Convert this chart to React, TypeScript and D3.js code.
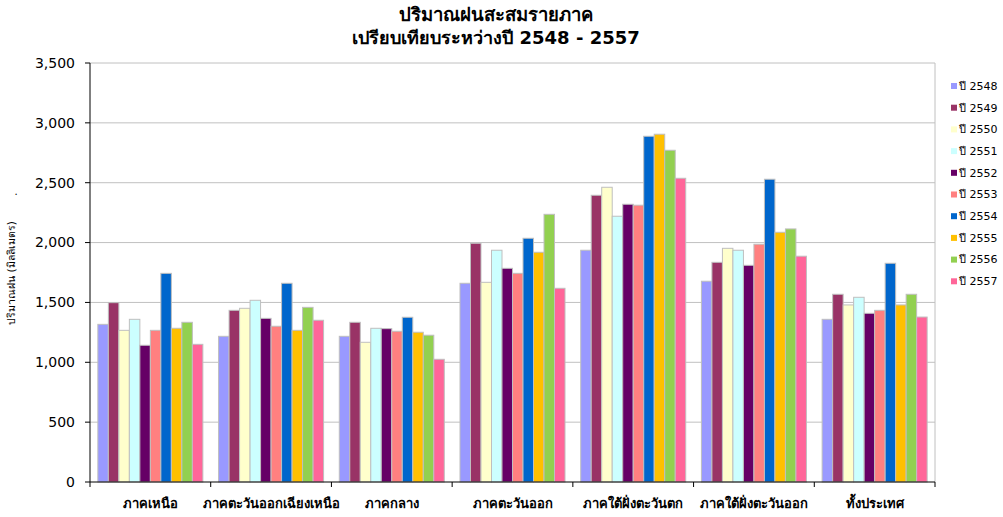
import React from "react";
import * as d3 from "d3";

const categories = ["ภาคเหนือ", "ภาคตะวันออกเฉียงเหนือ", "ภาคกลาง", "ภาคตะวันออก", "ภาคใต้ฝั่งตะวันตก", "ภาคใต้ฝั่งตะวันออก", "ทั้งประเทศ"];
const years = ["ปี 2548", "ปี 2549", "ปี 2550", "ปี 2551", "ปี 2552", "ปี 2553", "ปี 2554", "ปี 2555", "ปี 2556", "ปี 2557"];
const colors = ["#9999FF", "#993366", "#FFFFCC", "#CCFFFF", "#660066", "#FF8080", "#0066CC", "#FFC000", "#92D050", "#FF6699"];

const v2548 = [1317, 1217, 1217, 1660, 1936, 1677, 1359];
const v2549 = [1498, 1434, 1334, 1994, 2395, 1835, 1568];
const v2550 = [1267, 1451, 1167, 1668, 2462, 1952, 1479];
const v2551 = [1359, 1518, 1284, 1936, 2220, 1936, 1543];
const v2552 = [1142, 1367, 1281, 1785, 2320, 1810, 1409];
const v2553 = [1267, 1301, 1259, 1743, 2312, 1986, 1434];
const v2554 = [1743, 1660, 1376, 2036, 2888, 2529, 1827];
const v2555 = [1284, 1267, 1251, 1919, 2905, 2086, 1479];
const v2556 = [1334, 1459, 1226, 2236, 2771, 2114, 1568];
const v2557 = [1150, 1351, 1025, 1618, 2537, 1886, 1378];
const series = [v2548, v2549, v2550, v2551, v2552, v2553, v2554, v2555, v2556, v2557];

const yTicks = [0, 500, 1000, 1500, 2000, 2500, 3000, 3500];
const title1 = "ปริมาณฝนสะสมรายภาค";
const title2 = "เปรียบเทียบระหว่างปี 2548 - 2557";
const yTitle = "ปริมาณฝน (มิลลิเมตร)";

const W = 1003, H = 517;
const left = 90, right = 935, top = 63, bottom = 482;
const FONT = "Tahoma, 'DejaVu Sans', sans-serif";

export default function App() {
  const x0 = d3.scaleBand<string>().domain(categories).range([left, right]).paddingInner(0).paddingOuter(0);
  const y = d3.scaleLinear().domain([0, 3500]).range([bottom, top]);
  const gw = x0.bandwidth();
  const inner = 10.5 * 10 / 120.7 * gw;
  const x1 = d3.scaleBand<number>().domain(d3.range(years.length)).range([(gw - inner) / 2, (gw + inner) / 2]);
  const fmt = d3.format(",");

  return (
    <svg width={W} height={H} style={{ position: "absolute", left: 0, top: 0, background: "#fff" }}>
      <rect x={0} y={0} width={W} height={H} fill="#fff" />
      <text x={496} y={21} textAnchor="middle" fontFamily={FONT} fontWeight="bold" fontSize={18.5}>{title1}</text>
      <text x={496} y={44} textAnchor="middle" fontFamily={FONT} fontWeight="bold" fontSize={18}>{title2}</text>
      {yTicks.map((t) => (
        <g key={t}>
          {t > 0 && <line x1={left} x2={right} y1={y(t)} y2={y(t)} stroke="#C0C0C0" strokeWidth={1} />}
          <line x1={left - 5} x2={left} y1={y(t)} y2={y(t)} stroke="#000" />
          <text x={75} y={y(t)} dy="0.35em" textAnchor="end" fontFamily={FONT} fontSize={14}>{fmt(t)}</text>
        </g>
      ))}
      <line x1={right} x2={right} y1={top} y2={bottom} stroke="#C0C0C0" />
      {categories.map((c, ci) => (
        <g key={c} transform={`translate(${x0(c)},0)`}>
          {series.map((s, si) => (
            <rect key={si} x={x1(si)} y={y(s[ci])} width={x1.bandwidth()} height={y(0) - y(s[ci])}
              fill={colors[si]} stroke="#BFBFBF" strokeWidth={1} />
          ))}
        </g>
      ))}
      <line x1={left} x2={left} y1={top} y2={bottom} stroke="#000" />
      <line x1={left} x2={right} y1={bottom} y2={bottom} stroke="#000" />
      {categories.map((c, i) => (
        <g key={c}>
          <line x1={left + i * gw} x2={left + i * gw} y1={bottom} y2={bottom + 5} stroke="#000" />
          <text x={(x0(c) as number) + gw / 2} y={508} textAnchor="middle" fontFamily={FONT} fontWeight="bold" fontSize={13}>{c}</text>
        </g>
      ))}
      <line x1={right} x2={right} y1={bottom} y2={bottom + 5} stroke="#000" />
      <text x={16} y={195} textAnchor="middle" fontFamily={FONT} fontSize={10}>.</text>
      <text transform={`translate(15,273) rotate(-90)`} textAnchor="middle" fontFamily={FONT} fontSize={10.5}>{yTitle}</text>
      {years.map((yr, i) => (
        <g key={yr} transform={`translate(951,${86 + i * 21.7})`}>
          <rect x={0} y={-3} width={6} height={6} fill={colors[i]} />
          <text x={8} y={0} dy="0.35em" fontFamily={FONT} fontSize={11}>{yr}</text>
        </g>
      ))}
    </svg>
  );
}
